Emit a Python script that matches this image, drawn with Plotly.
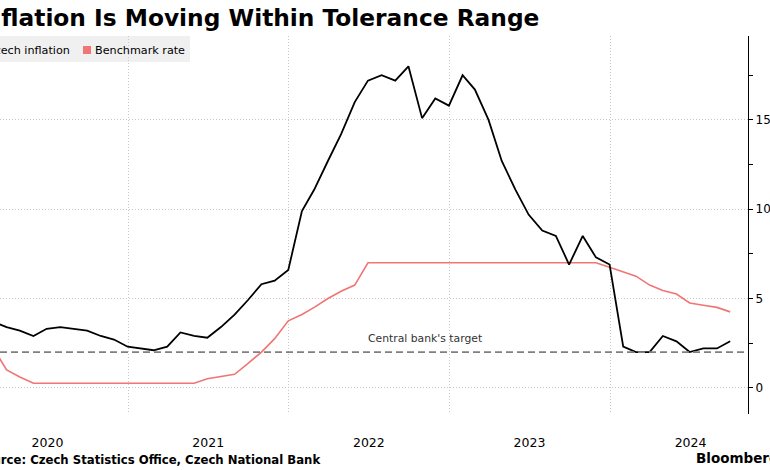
import pandas as pd
import plotly.graph_objects as go

# ---------------- data ----------------
months = [d.strftime("%Y-%m-%d") for d in pd.date_range("2020-01-31", periods=57, freq="ME")]

czech_inflation = [3.6, 3.7, 3.4, 3.2, 2.9, 3.3, 3.4, 3.3, 3.2, 2.9, 2.7, 2.3,
                   2.2, 2.1, 2.3, 3.1, 2.9, 2.8, 3.4, 4.1, 4.9, 5.8, 6.0, 6.6,
                   9.9, 11.1, 12.7, 14.2, 16.0, 17.2, 17.5, 17.2, 18.0, 15.1, 16.2, 15.8,
                   17.5, 16.7, 15.0, 12.7, 11.1, 9.7, 8.8, 8.5, 6.9, 8.5, 7.3, 6.9,
                   2.3, 2.0, 2.0, 2.9, 2.6, 2.0, 2.2, 2.2, 2.6]

benchmark_rate = [2.0, 2.25, 1.0, 0.6, 0.25, 0.25, 0.25, 0.25, 0.25, 0.25, 0.25, 0.25,
                  0.25, 0.25, 0.25, 0.25, 0.25, 0.5, 0.62, 0.75, 1.35, 2.0, 2.75, 3.75,
                  4.1, 4.5, 5.0, 5.4, 5.75, 7.0, 7.0, 7.0, 7.0, 7.0, 7.0, 7.0,
                  7.0, 7.0, 7.0, 7.0, 7.0, 7.0, 7.0, 7.0, 7.0, 7.0, 7.0, 6.75,
                  6.5, 6.25, 5.75, 5.45, 5.25, 4.75, 4.62, 4.5, 4.25]

target = 2.0
target_label = "Central bank's target"

year_labels = ["2020", "2021", "2022", "2023", "2024"]
year_mid = [y + "-07-02" for y in year_labels]
year_starts = ["2021-01-01", "2022-01-01", "2023-01-01", "2024-01-01"]
y_ticks = [0, 5, 10, 15]
y_minor = [2.5, 7.5, 12.5, 17.5]

title_text = "Inflation Is Moving Within Tolerance Range"
source_text = "Source: Czech Statistics Office, Czech National Bank"
series_names = ["Czech inflation", "Benchmark rate"]

# ---------------- style ----------------
W, H = 770, 470
ML, MR, MT, MB = 0, 22, 36, 56
PW, PH = W - ML - MR, H - MT - MB
FONT = "DejaVu Sans"
RED = "#f07575"
GRID = "#c8c8c8"


def px(x):
    return (x - ML) / PW


def py(y):
    return (H - MB - y) / PH


fig = go.Figure()
fig.add_trace(go.Scatter(x=months, y=benchmark_rate, mode="lines", name=series_names[1],
                         line=dict(color=RED, width=1.6), showlegend=False))
fig.add_trace(go.Scatter(x=months, y=czech_inflation, mode="lines", name=series_names[0],
                         line=dict(color="#000000", width=1.8), showlegend=False))

fig.update_layout(
    width=W, height=H,
    margin=dict(l=ML, r=MR, t=MT, b=MB, autoexpand=False),
    paper_bgcolor="white", plot_bgcolor="white",
    font=dict(family=FONT, color="#000000"),
    showlegend=False,
)

fig.update_xaxes(
    type="date",
    range=["2020-03-16", "2024-11-09 12:00"],
    tickmode="array", tickvals=year_mid, ticktext=year_labels,
    ticks="", showgrid=False, showline=False, zeroline=False,
    tickfont=dict(family=FONT, size=12.5, color="#000000"),
    ticklabelstandoff=19,
    minor=dict(tickmode="array", tickvals=year_starts, showgrid=True,
               gridcolor=GRID, griddash="1px,2px", gridwidth=1, ticks=""),
)

fig.update_yaxes(
    side="right", range=[-1.47, 19.70],
    tickmode="array", tickvals=y_ticks,
    ticks="outside", ticklen=4, tickcolor="#000000", tickwidth=1,
    showline=True, linecolor="#000000", linewidth=1.2,
    showgrid=True, gridcolor=GRID, griddash="1px,2px", gridwidth=1,
    zeroline=False,
    tickfont=dict(family=FONT, size=12, color="#000000"),
    minor=dict(tickmode="array", tickvals=y_minor, ticks="outside", ticklen=4,
               tickcolor="#000000", showgrid=False),
)

# target line
fig.add_shape(type="line", xref="paper", yref="y", x0=0, x1=px(744), y0=target, y1=target,
              line=dict(color="#808080", width=1.8, dash="7px,4px"))
fig.add_annotation(x="2022-11-06", y=target, xref="x", yref="y", text=target_label,
                   showarrow=False, yshift=14, font=dict(family=FONT, size=10.8, color="#333333"))

# legend (manual, Bloomberg style)
fig.add_shape(type="rect", xref="paper", yref="paper", x0=px(-30), x1=px(190), y0=py(62), y1=py(36),
              fillcolor="#f0f0f0", line=dict(width=0), layer="below")
fig.add_shape(type="rect", xref="paper", yref="paper", x0=px(-24), x1=px(-16), y0=py(54), y1=py(46),
              fillcolor="#000000", line=dict(width=0))
fig.add_shape(type="rect", xref="paper", yref="paper", x0=px(83), x1=px(91), y0=py(54), y1=py(46),
              fillcolor=RED, line=dict(width=0))
fig.add_annotation(xref="paper", yref="paper", x=px(72), y=py(50), xanchor="right", yanchor="middle",
                   text=series_names[0], showarrow=False, font=dict(family=FONT, size=11.2, color="#000000"))
fig.add_annotation(xref="paper", yref="paper", x=px(93), y=py(50), xanchor="left", yanchor="middle",
                   text=series_names[1], showarrow=False, font=dict(family=FONT, size=11.2, color="#000000"))

# title, source, brand
fig.add_annotation(xref="paper", yref="paper", x=px(-26), y=py(17), xanchor="left", yanchor="middle",
                   text="<b>" + title_text + "</b>", showarrow=False,
                   font=dict(family=FONT, size=23.3, color="#000000"))
fig.add_annotation(xref="paper", yref="paper", x=px(-26), y=py(460), xanchor="left", yanchor="middle",
                   text="<b>" + source_text + "</b>", showarrow=False,
                   font=dict(family=FONT, size=11.7, color="#000000"))
fig.add_annotation(xref="paper", yref="paper", x=px(694), y=py(458), xanchor="left", yanchor="middle",
                   text="<b>Bloomberg</b>", showarrow=False,
                   font=dict(family=FONT, size=13.5, color="#000000"))

fig.write_html("out.html", config={"displayModeBar": False},
               post_script="document.body.style.margin='0px';")
